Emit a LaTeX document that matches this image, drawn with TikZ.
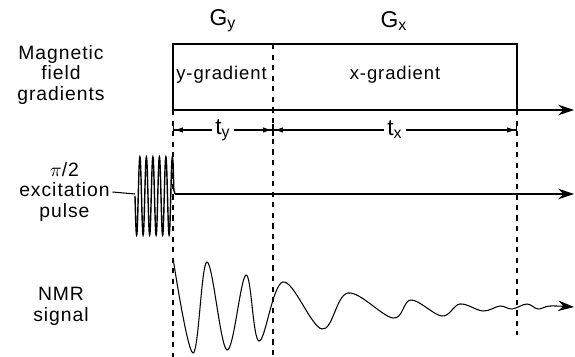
\documentclass[tikz,border=0pt]{standalone}
\usepackage{fontspec}
\setmainfont{Liberation Sans}[LetterSpace=5]
\usepackage{tikz}
\usetikzlibrary{arrows.meta, positioning}

\tikzset{
  lab/.style={align=center, inner sep=0pt, font=\fontsize{11}{11.8}\selectfont},
  big/.style={lab, font=\fontsize{13}{14}\selectfont},
  guide/.style={semithick, dash pattern=on 3pt off 3pt},
  axis/.style={semithick, -{Stealth[length=9pt, width=6pt]}},
  dim/.style={semithick, {Bar[width=7pt]Latex[length=5pt, width=3pt]}-{Latex[length=5pt, width=3pt]Bar[width=7pt]}},
}

\begin{document}
\begin{tikzpicture}
  \useasboundingbox (0,0) rectangle (11.5,-7.14);
  % time marks
  \coordinate (o) at (3.46,-2.2);
  \coordinate (gTop) at (3.46,-0.88);
  \coordinate (mTop) at (5.46,-0.88);
  \coordinate (xTop) at (10.34,-0.88);
  \coordinate (gEnd) at (11.48,-2.2);
  \coordinate (pStart) at (2.7,-3.88);
  \coordinate (pEnd) at (3.5,-3.88);
  \coordinate (pAxis) at (11.48,-3.88);

  % left labels
  \node[lab] (gradLab) at (1.22,-1.5) {Magnetic\\field\\gradients};
  \node[lab, anchor=east] (pulseLab) at (2.2,-3.84) {$\pi$/2\\excitation\\pulse};
  \node[lab] (nmrLab) at (1.22,-6.12) {NMR\\signal};

  % gradients
  \draw[semithick] (o) -- (gTop) -- (xTop) -- (xTop |- o);
  \draw[axis] (o) -- (gEnd);
  \node[big] (gy) at (4.46,-0.42) {G\textsubscript{y}};
  \node[big] (gx) at (7.88,-0.42) {G\textsubscript{x}};
  \node[lab, font=\fontsize{10.5}{12}\selectfont] (yg) at (4.43,-1.5) {y-gradient};
  \node[lab, font=\fontsize{10.5}{12}\selectfont] (xg) at (7.9,-1.5) {x-gradient};

  % dashed guides
  \draw[guide] (o) -- (3.46,-7.14);
  \draw[guide] (mTop) -- (5.46,-7.1);
  \draw[guide] (xTop |- o) -- (10.34,-6.7);

  % intervals
  \coordinate (tyA) at (3.46,-2.6);
  \coordinate (tyB) at (5.46,-2.6);
  \coordinate (txB) at (10.34,-2.6);
  \draw[dim] (tyA) -- (tyB) node[midway, fill=white, big, inner sep=2pt] (ty) {t\textsubscript{y}};
  \draw[dim] (tyB) -- (txB) node[midway, fill=white, big, inner sep=2pt] (tx) {t\textsubscript{x}};

  % excitation pulse
  \draw[semithick] (pulseLab.east) ++(0.05,0) -- (pStart);
  \draw[thick] plot[domain=2.7:3.48, samples=240]
        (\x,{-3.92-0.78*sin(360*6*(\x-2.7)/0.78)}) -- (pEnd);
  \draw[axis] (pEnd) -- (pAxis);

  % NMR signal
  \draw[semithick, -{Stealth[length=9pt, width=6pt]}] plot[smooth, tension=0.6] coordinates {
    (3.46,-5.16) (3.86,-7.06) (4.14,-5.24) (4.54,-7.00) (4.92,-5.50)
    (5.18,-6.82) (5.66,-5.64) (6.44,-6.58) (6.96,-5.86) (7.86,-6.36)
    (8.22,-6.00) (8.84,-6.32) (9.20,-6.08) (9.66,-6.22) (10.0,-6.12)
    (10.24,-6.18) (10.54,-6.08) (10.76,-6.18) (11.0,-6.12) (11.48,-6.14)};
\end{tikzpicture}
\end{document}
